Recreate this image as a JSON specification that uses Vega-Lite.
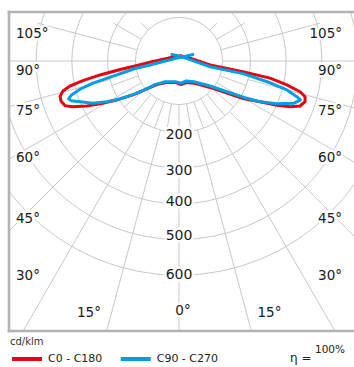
{
  "$schema": "https://vega.github.io/schema/vega-lite/v6.json",
  "width": 345,
  "height": 319,
  "autosize": {"type": "none"},
  "padding": {"left": 9, "top": 12, "right": 0, "bottom": 36},
  "background": "white",
  "config": {"view": {"stroke": null}, "font": "DejaVu Sans"},
  "datasets": {
    "rays": [
      {"a": 0, "x": 0, "y": -122, "x2": 0, "y2": -1400},
      {"a": 10, "x": 21.2, "y": -120.1, "x2": 34.7, "y2": -197},
      {"a": -10, "x": -21.2, "y": -120.1, "x2": -34.7, "y2": -197},
      {"a": 20, "x": 41.7, "y": -114.6, "x2": 68.4, "y2": -187.9},
      {"a": -20, "x": -41.7, "y": -114.6, "x2": -68.4, "y2": -187.9},
      {"a": 40, "x": 78.4, "y": -93.5, "x2": 128.6, "y2": -153.2},
      {"a": -40, "x": -78.4, "y": -93.5, "x2": -128.6, "y2": -153.2},
      {"a": 50, "x": 93.5, "y": -78.4, "x2": 153.2, "y2": -128.6},
      {"a": -50, "x": -93.5, "y": -78.4, "x2": -153.2, "y2": -128.6},
      {"a": 70, "x": 114.6, "y": -41.7, "x2": 187.9, "y2": -68.4},
      {"a": -70, "x": -114.6, "y": -41.7, "x2": -187.9, "y2": -68.4},
      {"a": 80, "x": 120.1, "y": -21.2, "x2": 197, "y2": -34.7},
      {"a": -80, "x": -120.1, "y": -21.2, "x2": -197, "y2": -34.7},
      {"a": 15, "x": 51.8, "y": -193.2, "x2": 362.3, "y2": -1352.3},
      {"a": -15, "x": -51.8, "y": -193.2, "x2": -362.3, "y2": -1352.3},
      {"a": 30, "x": 61, "y": -105.7, "x2": 700, "y2": -1212.4},
      {"a": -30, "x": -61, "y": -105.7, "x2": -700, "y2": -1212.4},
      {"a": 45, "x": 141.4, "y": -141.4, "x2": 989.9, "y2": -989.9},
      {"a": -45, "x": -141.4, "y": -141.4, "x2": -989.9, "y2": -989.9},
      {"a": 60, "x": 105.7, "y": -61, "x2": 1212.4, "y2": -700},
      {"a": -60, "x": -105.7, "y": -61, "x2": -1212.4, "y2": -700},
      {"a": 75, "x": 193.2, "y": -51.8, "x2": 1352.3, "y2": -362.3},
      {"a": -75, "x": -193.2, "y": -51.8, "x2": -1352.3, "y2": -362.3},
      {"a": 90, "x": 122, "y": 0, "x2": 1400, "y2": 0},
      {"a": -90, "x": -122, "y": 0, "x2": -1400, "y2": 0},
      {"a": 105, "x": 117.8, "y": 31.6, "x2": 395.6, "y2": 106},
      {"a": -105, "x": -117.8, "y": 31.6, "x2": -395.6, "y2": 106},
      {"a": 120, "x": 105.7, "y": 61, "x2": 183.6, "y2": 106},
      {"a": -120, "x": -105.7, "y": 61, "x2": -183.6, "y2": 106},
      {"a": 135, "x": 86.3, "y": 86.3, "x2": 106, "y2": 106},
      {"a": -135, "x": -86.3, "y": 86.3, "x2": -106, "y2": 106}
    ],
    "rings": [
      {"v": 122}, {"v": 200}, {"v": 300}, {"v": 400}, {"v": 500}, {"v": 600}
    ],
    "frame": [
      {"x": -476, "y": -756, "x2": -476, "y2": 137.2},
      {"x": -476, "y": 137.2, "x2": 520, "y2": 137.2},
      {"x": -476, "y": -756, "x2": 520, "y2": -756}
    ],
    "curves": [
      {"s": "C0 - C180", "h": "C180", "i": 0, "x": 6, "y": -66},
      {"s": "C0 - C180", "h": "C180", "i": 1, "x": -11, "y": -60},
      {"s": "C0 - C180", "h": "C180", "i": 2, "x": -36, "y": -60},
      {"s": "C0 - C180", "h": "C180", "i": 3, "x": -62, "y": -66},
      {"s": "C0 - C180", "h": "C180", "i": 4, "x": -90, "y": -78},
      {"s": "C0 - C180", "h": "C180", "i": 5, "x": -129, "y": -95},
      {"s": "C0 - C180", "h": "C180", "i": 6, "x": -174, "y": -109},
      {"s": "C0 - C180", "h": "C180", "i": 7, "x": -221, "y": -120},
      {"s": "C0 - C180", "h": "C180", "i": 8, "x": -258, "y": -126},
      {"s": "C0 - C180", "h": "C180", "i": 9, "x": -300, "y": -128},
      {"s": "C0 - C180", "h": "C180", "i": 10, "x": -319, "y": -125},
      {"s": "C0 - C180", "h": "C180", "i": 11, "x": -330, "y": -113},
      {"s": "C0 - C180", "h": "C180", "i": 12, "x": -333, "y": -99},
      {"s": "C0 - C180", "h": "C180", "i": 13, "x": -325, "y": -84},
      {"s": "C0 - C180", "h": "C180", "i": 14, "x": -305, "y": -70},
      {"s": "C0 - C180", "h": "C180", "i": 15, "x": -269, "y": -55},
      {"s": "C0 - C180", "h": "C180", "i": 16, "x": -221, "y": -39},
      {"s": "C0 - C180", "h": "C180", "i": 17, "x": -165, "y": -24},
      {"s": "C0 - C180", "h": "C180", "i": 18, "x": -123, "y": -14},
      {"s": "C0 - C180", "h": "C180", "i": 19, "x": -73, "y": -1},
      {"s": "C0 - C180", "h": "C180", "i": 20, "x": -31, "y": 8},
      {"s": "C0 - C180", "h": "C180", "i": 21, "x": -6, "y": 14},
      {"s": "C0 - C180", "h": "C180", "i": 22, "x": 6, "y": 14},
      {"s": "C0 - C180", "h": "C0", "i": 0, "x": 6, "y": 14},
      {"s": "C0 - C180", "h": "C0", "i": 1, "x": 31, "y": 8},
      {"s": "C0 - C180", "h": "C0", "i": 2, "x": 87, "y": -11},
      {"s": "C0 - C180", "h": "C0", "i": 3, "x": 182, "y": -31},
      {"s": "C0 - C180", "h": "C0", "i": 4, "x": 255, "y": -48},
      {"s": "C0 - C180", "h": "C0", "i": 5, "x": 302, "y": -67},
      {"s": "C0 - C180", "h": "C0", "i": 6, "x": 339, "y": -86},
      {"s": "C0 - C180", "h": "C0", "i": 7, "x": 353, "y": -100},
      {"s": "C0 - C180", "h": "C0", "i": 8, "x": 353, "y": -114},
      {"s": "C0 - C180", "h": "C0", "i": 9, "x": 339, "y": -126},
      {"s": "C0 - C180", "h": "C0", "i": 10, "x": 311, "y": -128},
      {"s": "C0 - C180", "h": "C0", "i": 11, "x": 274, "y": -124},
      {"s": "C0 - C180", "h": "C0", "i": 12, "x": 227, "y": -114},
      {"s": "C0 - C180", "h": "C0", "i": 13, "x": 182, "y": -106},
      {"s": "C0 - C180", "h": "C0", "i": 14, "x": 134, "y": -90},
      {"s": "C0 - C180", "h": "C0", "i": 15, "x": 87, "y": -74},
      {"s": "C0 - C180", "h": "C0", "i": 16, "x": 42, "y": -62},
      {"s": "C0 - C180", "h": "C0", "i": 17, "x": 22, "y": -60},
      {"s": "C0 - C180", "h": "C0", "i": 18, "x": 6, "y": -66},
      {"s": "C90 - C270", "h": "C270", "i": 0, "x": 6, "y": -62},
      {"s": "C90 - C270", "h": "C270", "i": 1, "x": -11, "y": -58},
      {"s": "C90 - C270", "h": "C270", "i": 2, "x": -39, "y": -58},
      {"s": "C90 - C270", "h": "C270", "i": 3, "x": -67, "y": -66},
      {"s": "C90 - C270", "h": "C270", "i": 4, "x": -95, "y": -80},
      {"s": "C90 - C270", "h": "C270", "i": 5, "x": -129, "y": -94},
      {"s": "C90 - C270", "h": "C270", "i": 6, "x": -165, "y": -106},
      {"s": "C90 - C270", "h": "C270", "i": 7, "x": -202, "y": -114},
      {"s": "C90 - C270", "h": "C270", "i": 8, "x": -241, "y": -118},
      {"s": "C90 - C270", "h": "C270", "i": 9, "x": -277, "y": -114},
      {"s": "C90 - C270", "h": "C270", "i": 10, "x": -302, "y": -111},
      {"s": "C90 - C270", "h": "C270", "i": 11, "x": -309, "y": -106},
      {"s": "C90 - C270", "h": "C270", "i": 12, "x": -301, "y": -95},
      {"s": "C90 - C270", "h": "C270", "i": 13, "x": -277, "y": -79},
      {"s": "C90 - C270", "h": "C270", "i": 14, "x": -241, "y": -62},
      {"s": "C90 - C270", "h": "C270", "i": 15, "x": -174, "y": -39},
      {"s": "C90 - C270", "h": "C270", "i": 16, "x": -123, "y": -21},
      {"s": "C90 - C270", "h": "C270", "i": 17, "x": -81, "y": -11},
      {"s": "C90 - C270", "h": "C270", "i": 18, "x": -39, "y": 0},
      {"s": "C90 - C270", "h": "C270", "i": 19, "x": -6, "y": 8},
      {"s": "C90 - C270", "h": "C270", "i": 20, "x": 11, "y": 11},
      {"s": "C90 - C270", "h": "C270", "i": 21, "x": 39, "y": 18},
      {"s": "C90 - C270", "h": "C90", "i": 0, "x": -20, "y": 18},
      {"s": "C90 - C270", "h": "C90", "i": 1, "x": 11, "y": 11},
      {"s": "C90 - C270", "h": "C90", "i": 2, "x": 31, "y": 4},
      {"s": "C90 - C270", "h": "C90", "i": 3, "x": 87, "y": -16},
      {"s": "C90 - C270", "h": "C90", "i": 4, "x": 182, "y": -36},
      {"s": "C90 - C270", "h": "C90", "i": 5, "x": 255, "y": -61},
      {"s": "C90 - C270", "h": "C90", "i": 6, "x": 302, "y": -81},
      {"s": "C90 - C270", "h": "C90", "i": 7, "x": 330, "y": -100},
      {"s": "C90 - C270", "h": "C90", "i": 8, "x": 340, "y": -109},
      {"s": "C90 - C270", "h": "C90", "i": 9, "x": 322, "y": -118},
      {"s": "C90 - C270", "h": "C90", "i": 10, "x": 274, "y": -120},
      {"s": "C90 - C270", "h": "C90", "i": 11, "x": 227, "y": -114},
      {"s": "C90 - C270", "h": "C90", "i": 12, "x": 182, "y": -102},
      {"s": "C90 - C270", "h": "C90", "i": 13, "x": 134, "y": -86},
      {"s": "C90 - C270", "h": "C90", "i": 14, "x": 87, "y": -70},
      {"s": "C90 - C270", "h": "C90", "i": 15, "x": 42, "y": -58},
      {"s": "C90 - C270", "h": "C90", "i": 16, "x": 20, "y": -56},
      {"s": "C90 - C270", "h": "C90", "i": 17, "x": 6, "y": -62}
    ],
    "angL": [
      {"t": "105°", "x": -456.4, "y": 63.6},
      {"t": "90°", "x": -456.4, "y": -39.2},
      {"t": "75°", "x": -456.4, "y": -151.2},
      {"t": "60°", "x": -456.4, "y": -282},
      {"t": "45°", "x": -456.4, "y": -454.4},
      {"t": "30°", "x": -456.4, "y": -613.2}
    ],
    "angR": [
      {"t": "105°", "x": 456.4, "y": 63.6},
      {"t": "90°", "x": 456.4, "y": -39.2},
      {"t": "75°", "x": 456.4, "y": -151.2},
      {"t": "60°", "x": 456.4, "y": -282},
      {"t": "45°", "x": 456.4, "y": -454.4},
      {"t": "30°", "x": 456.4, "y": -613.2}
    ],
    "angC": [
      {"t": "15°", "x": -252, "y": -716.8},
      {"t": "0°", "x": 11.2, "y": -711.2},
      {"t": "15°", "x": 253.4, "y": -716.8}
    ],
    "vals": [
      {"t": "200", "x": 0, "y": -219.2},
      {"t": "300", "x": 0, "y": -319.2},
      {"t": "400", "x": 0, "y": -406},
      {"t": "500", "x": 0, "y": -501.2},
      {"t": "600", "x": 0, "y": -611.2}
    ]
  },
  "encoding": {
    "x": {"type": "quantitative", "axis": null, "scale": {"domain": [-476, 490], "nice": false, "zero": false}},
    "y": {"type": "quantitative", "axis": null, "scale": {"domain": [-756, 137.2], "nice": false, "zero": false}}
  },
  "layer": [
    {
      "data": {"name": "rays"},
      "mark": {"type": "rule", "color": "#c9c9c9", "strokeWidth": 1, "clip": true},
      "encoding": {
        "x": {"field": "x", "type": "quantitative"},
        "y": {"field": "y", "type": "quantitative"},
        "x2": {"field": "x2"},
        "y2": {"field": "y2"}
      }
    },
    {
      "data": {"name": "rings"},
      "mark": {"type": "point", "shape": "circle", "filled": false, "color": "#c9c9c9", "strokeWidth": 1, "opacity": 1, "clip": true},
      "encoding": {
        "x": {"datum": 0, "type": "quantitative"},
        "y": {"datum": 0, "type": "quantitative"},
        "size": {"field": "v", "type": "quantitative", "legend": null, "scale": {"type": "pow", "exponent": 2, "domain": [0, 700], "range": [0, 250000]}}
      }
    },
    {
      "data": {"name": "frame"},
      "mark": {"type": "rule", "color": "#b3b3b3", "strokeWidth": 2.6, "strokeCap": "square", "clip": false},
      "encoding": {
        "x": {"field": "x", "type": "quantitative"},
        "y": {"field": "y", "type": "quantitative"},
        "x2": {"field": "x2"},
        "y2": {"field": "y2"}
      }
    },
    {
      "data": {"name": "vals"},
      "mark": {"type": "text", "align": "center", "baseline": "alphabetic", "fontSize": 14, "stroke": "white", "strokeWidth": 5, "strokeJoin": "round", "fill": "white"},
      "encoding": {"x": {"field": "x", "type": "quantitative"}, "y": {"field": "y", "type": "quantitative"}, "text": {"field": "t"}}
    },
    {
      "data": {"name": "vals"},
      "mark": {"type": "text", "align": "center", "baseline": "alphabetic", "fontSize": 14, "fill": "#1a1a1a"},
      "encoding": {"x": {"field": "x", "type": "quantitative"}, "y": {"field": "y", "type": "quantitative"}, "text": {"field": "t"}}
    },
    {
      "data": {"name": "angL"},
      "mark": {"type": "text", "align": "left", "baseline": "alphabetic", "fontSize": 13.5, "stroke": "white", "strokeWidth": 5, "strokeJoin": "round", "fill": "white"},
      "encoding": {"x": {"field": "x", "type": "quantitative"}, "y": {"field": "y", "type": "quantitative"}, "text": {"field": "t"}}
    },
    {
      "data": {"name": "angL"},
      "mark": {"type": "text", "align": "left", "baseline": "alphabetic", "fontSize": 13.5, "fill": "#1a1a1a"},
      "encoding": {"x": {"field": "x", "type": "quantitative"}, "y": {"field": "y", "type": "quantitative"}, "text": {"field": "t"}}
    },
    {
      "data": {"name": "angR"},
      "mark": {"type": "text", "align": "right", "baseline": "alphabetic", "fontSize": 13.5, "stroke": "white", "strokeWidth": 5, "strokeJoin": "round", "fill": "white"},
      "encoding": {"x": {"field": "x", "type": "quantitative"}, "y": {"field": "y", "type": "quantitative"}, "text": {"field": "t"}}
    },
    {
      "data": {"name": "angR"},
      "mark": {"type": "text", "align": "right", "baseline": "alphabetic", "fontSize": 13.5, "fill": "#1a1a1a"},
      "encoding": {"x": {"field": "x", "type": "quantitative"}, "y": {"field": "y", "type": "quantitative"}, "text": {"field": "t"}}
    },
    {
      "data": {"name": "angC"},
      "mark": {"type": "text", "align": "center", "baseline": "alphabetic", "fontSize": 13.5, "stroke": "white", "strokeWidth": 5, "strokeJoin": "round", "fill": "white"},
      "encoding": {"x": {"field": "x", "type": "quantitative"}, "y": {"field": "y", "type": "quantitative"}, "text": {"field": "t"}}
    },
    {
      "data": {"name": "angC"},
      "mark": {"type": "text", "align": "center", "baseline": "alphabetic", "fontSize": 13.5, "fill": "#1a1a1a"},
      "encoding": {"x": {"field": "x", "type": "quantitative"}, "y": {"field": "y", "type": "quantitative"}, "text": {"field": "t"}}
    },
    {
      "data": {"name": "curves"},
      "transform": [{"filter": {"field": "s", "equal": "C0 - C180"}}],
      "mark": {"type": "line", "strokeWidth": 3, "strokeJoin": "round", "strokeCap": "round", "clip": true},
      "encoding": {
        "x": {"field": "x", "type": "quantitative"},
        "y": {"field": "y", "type": "quantitative"},
        "order": {"field": "i", "type": "quantitative"},
        "detail": {"field": "h"},
        "color": {
          "field": "s", "type": "nominal",
          "scale": {"domain": ["C0 - C180", "C90 - C270"], "range": ["#e30613", "#009fe3"]},
          "legend": {
            "title": "cd/klm", "orient": "none", "legendX": 1, "legendY": 325, "direction": "horizontal",
            "titleFontSize": 10, "titleFontWeight": "normal", "titleColor": "#333333", "titlePadding": -5,
            "labelFontSize": 11, "labelColor": "#222222", "labelOffset": 4,
            "symbolType": "stroke", "symbolSize": 900, "symbolStrokeWidth": 4,
            "columnPadding": 9.7, "padding": 0
          }
        }
      }
    },
    {
      "data": {"name": "curves"},
      "transform": [{"filter": {"field": "s", "equal": "C90 - C270"}}],
      "mark": {"type": "line", "strokeWidth": 3, "strokeJoin": "round", "strokeCap": "round", "clip": true},
      "encoding": {
        "x": {"field": "x", "type": "quantitative"},
        "y": {"field": "y", "type": "quantitative"},
        "order": {"field": "i", "type": "quantitative"},
        "detail": {"field": "h"},
        "color": {"field": "s", "type": "nominal"}
      }
    },
    {
      "data": {"values": [{"t": "η ="}]},
      "mark": {"type": "text", "align": "left", "baseline": "alphabetic", "fontSize": 12, "fill": "#222222", "clip": false},
      "encoding": {"x": {"datum": 310.8, "type": "quantitative"}, "y": {"datum": -842.8, "type": "quantitative"}, "text": {"field": "t"}}
    },
    {
      "data": {"values": [{"t": "100%"}]},
      "mark": {"type": "text", "align": "left", "baseline": "alphabetic", "fontSize": 10.5, "fill": "#222222", "clip": false},
      "encoding": {"x": {"datum": 380.8, "type": "quantitative"}, "y": {"datum": -818.4, "type": "quantitative"}, "text": {"field": "t"}}
    }
  ]
}
